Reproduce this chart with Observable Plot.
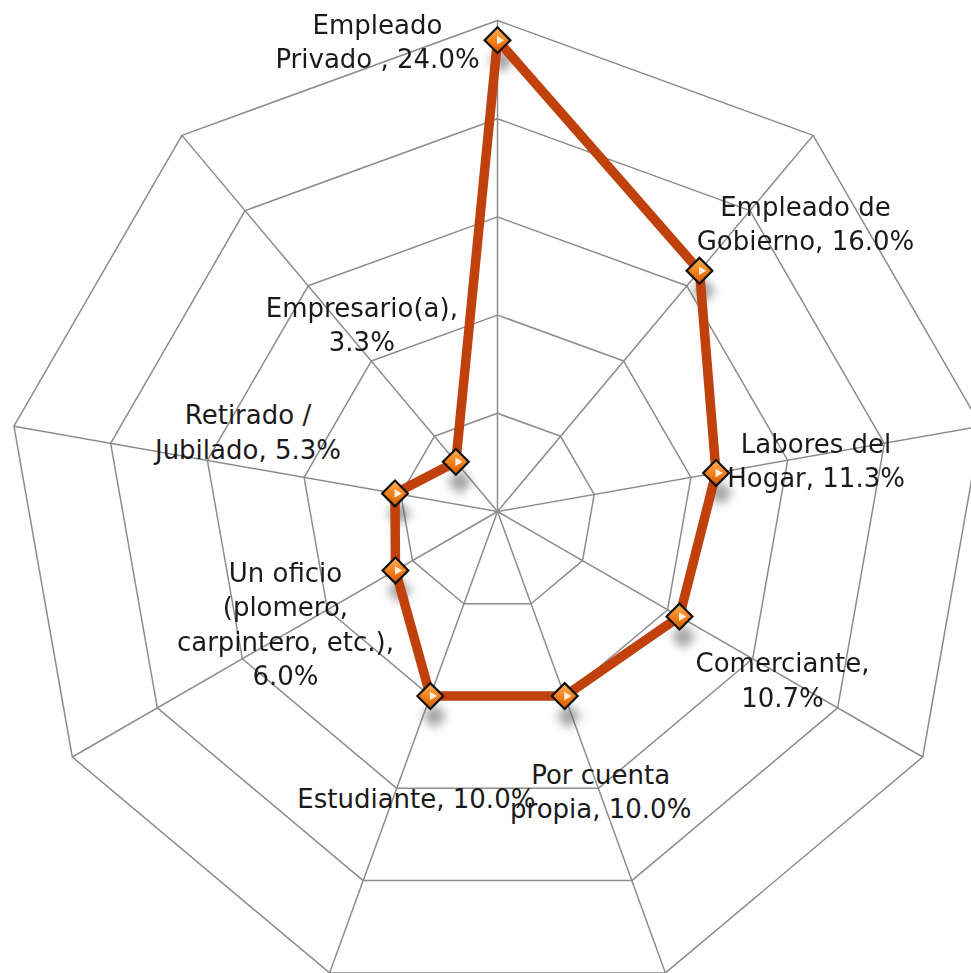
<!DOCTYPE html>
<html><head><meta charset="utf-8">
<script src="https://cdn.jsdelivr.net/npm/d3@7"></script>
<script src="https://cdn.jsdelivr.net/npm/@observablehq/plot@0.6"></script>
<style>body{margin:0;background:#fff;} #chart svg{overflow:hidden;display:block}</style>
</head><body><div id="chart"></div>
<script>
// ---- data ----
const categories = [
  "Empleado\nPrivado ",
  "Empleado de\nGobierno",
  "Labores del\nHogar",
  "Comerciante",
  "Por cuenta\npropia",
  "Estudiante",
  "Un oficio\n(plomero,\ncarpintero, etc.)",
  "Retirado /\nJubilado",
  "Empresario(a)"
];
const values = [24.0, 16.0, 11.3, 10.7, 10.0, 10.0, 6.0, 5.3, 3.3];
const breakBeforeValue = [false, false, false, true, false, false, true, false, true];
const ringTicks = [5, 10, 15, 20, 25];
const maxValue = 25;
// label layout: pixel offsets of label block centre from its point
const labelOffsets = [[-120, 0], [106, -49], [100, -14], [103, 62], [36, 94], [-14, 101], [-110, 52], [-147, -63], [-94, -139]];

// ---- geometry ----
const cx = 497, cy = 511, R = 491;
const pxPerUnit = R / maxValue;
const n = categories.length;
const ang = i => i * 2 * Math.PI / n;
const px = (v, i) => v * Math.sin(ang(i));
const py = (v, i) => v * Math.cos(ang(i));

const rings = ringTicks.flatMap(t => d3.range(n + 1).map(j => ({ring: t, x: px(t, j % n), y: py(t, j % n)})));
const spokes = categories.map((c, i) => ({x1: 0, y1: 0, x2: px(maxValue, i), y2: py(maxValue, i)}));
const pts = values.map((v, i) => ({
  cat: categories[i], v,
  x: px(v, i), y: py(v, i),
  lx: px(v, i) + labelOffsets[i][0] / pxPerUnit,
  ly: py(v, i) - labelOffsets[i][1] / pxPerUnit,
  label: categories[i] + "," + (breakBeforeValue[i] ? "\n" : " ") + v.toFixed(1) + "%"
}));
const path = [...pts, pts[0]];

const chart = Plot.plot({
  width: 971, height: 973, margin: 0,
  style: {background: "#fff", fontFamily: "DejaVu Sans"},
  x: {domain: [-maxValue, maxValue], range: [cx - R, cx + R], axis: null},
  y: {domain: [-maxValue, maxValue], range: [cy + R, cy - R], axis: null},
  marks: [
    Plot.line(rings, {x: "x", y: "y", z: "ring", stroke: "#8c8c8c", strokeWidth: 1.5}),
    Plot.link(spokes, {x1: "x1", y1: "y1", x2: "x2", y2: "y2", stroke: "#8c8c8c", strokeWidth: 1.5}),
    Plot.dot(pts, {x: "x", y: "y", symbol: "square", rotate: 45, r: 10, fill: "#555", fillOpacity: 0.55, dx: 4, dy: 20}),
    Plot.line(path, {x: "x", y: "y", stroke: "#C0410C", strokeWidth: 9.5, strokeLinejoin: "round"}),
    Plot.dot(pts, {x: "x", y: "y", symbol: "square", rotate: 45, r: 10.3, fill: "url(#mk)", stroke: "#111", strokeWidth: 2.2}),
    Plot.dot(pts, {x: "x", y: "y", symbol: "triangle", rotate: 90, r: 3.2, dx: 2, fill: "#fff", fillOpacity: 0.85}),
    Plot.text(pts, {x: "lx", y: "ly", text: "label", fontSize: 26, lineHeight: 1.32, lineAnchor: "middle", textAnchor: "middle", fill: "#1a1a1a"})
  ]
});
const svg = d3.select(chart);
svg.insert("defs", ":first-child").html(
  '<linearGradient id="mk" x1="0" y1="0" x2="1" y2="1">' +
  '<stop offset="0" stop-color="#FFB466"/><stop offset="0.45" stop-color="#F7861E"/>' +
  '<stop offset="1" stop-color="#D55A00"/></linearGradient>' +
  '<filter id="sh" x="-100%" y="-100%" width="300%" height="300%"><feGaussianBlur stdDeviation="5"/></filter>');
const dotGroups = svg.selectAll('g[aria-label="dot"]').nodes();
if (dotGroups.length) d3.select(dotGroups[0]).attr("filter", "url(#sh)");
document.getElementById("chart").appendChild(chart);
</script>
</body></html>
